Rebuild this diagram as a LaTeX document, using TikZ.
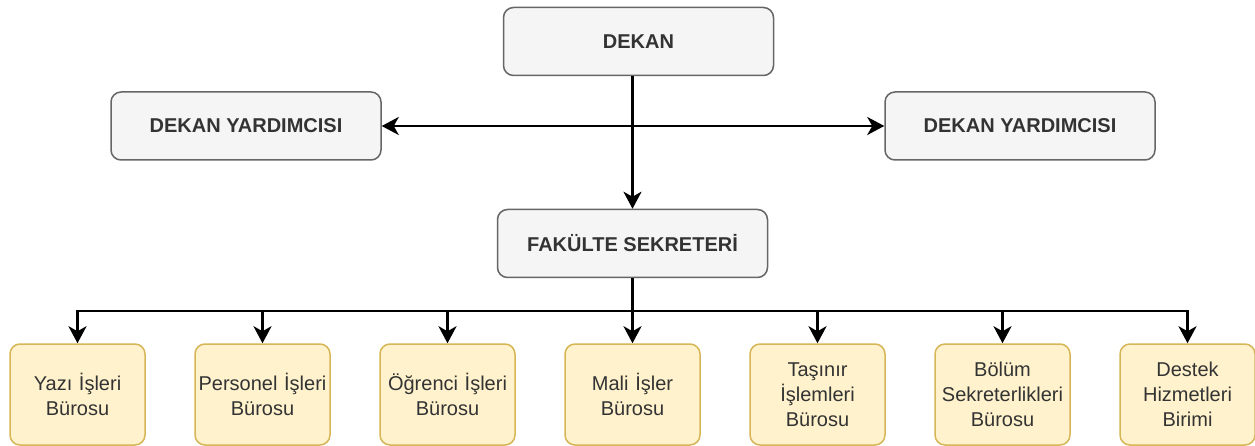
\documentclass[tikz,border=0pt]{standalone}
\usepackage{fontspec}
\setmainfont{Liberation Sans}
\usetikzlibrary{arrows.meta}
\definecolor{grayfill}{HTML}{F5F5F5}
\definecolor{grayline}{HTML}{666666}
\definecolor{yelfill}{HTML}{FFF2CC}
\definecolor{yelline}{HTML}{D6B656}
\definecolor{txt}{HTML}{333333}
\begin{document}
\begin{tikzpicture}[x=1pt,y=-1pt,
 graybox/.style={draw=grayline, fill=grayfill, line width=1.5pt, rounded corners=10pt,
   minimum width=270pt, minimum height=68pt, text=txt,
   font=\fontsize{20}{24}\selectfont\bfseries, inner sep=0pt},
 yelbox/.style={draw=yelline, fill=yelfill, line width=1.5pt, rounded corners=10pt,
   minimum width=135pt, minimum height=101pt, text=txt,
   font=\fontsize{20}{25}\selectfont, align=center, inner sep=0pt, text width=133pt},
 conn/.style={line width=2.8pt, draw=black},
 tip/.style={-{Stealth[length=17pt,width=18pt,inset=5pt]}},
 tips/.style={{Stealth[length=17pt,width=18pt,inset=5pt]}-{Stealth[length=17pt,width=18pt,inset=5pt]}}
]
\useasboundingbox (0,0) rectangle (1255,446);
\fill[white] (0,0) rectangle (1255,446);

\node[graybox] (dekan) at (638.5,41.5) {DEKAN};
\node[graybox] (dyL) at (246,126) {DEKAN YARDIMCISI};
\node[graybox] (dyR) at (1020,126) {DEKAN YARDIMCISI};
\node[graybox] (fs) at (632.5,243.5) {FAKÜLTE SEKRETERİ};

\node[yelbox] (b1) at (77.5,394.5) {Yazı İşleri\\Bürosu};
\node[yelbox] (b2) at (262.5,394.5) {Personel İşleri\\Bürosu};
\node[yelbox] (b3) at (447.5,394.5) {Öğrenci İşleri\\Bürosu};
\node[yelbox] (b4) at (632.5,394.5) {Mali İşler\\Bürosu};
\node[yelbox] (b5) at (817.5,394.5) {Taşınır\\İşlemleri\\Bürosu};
\node[yelbox] (b6) at (1002.5,394.5) {Bölüm\\Sekreterlikleri\\Bürosu};
\node[yelbox] (b7) at (1187.5,394.5) {Destek\\Hizmetleri\\Birimi};

\coordinate (bus) at (0,311);

\draw[conn,tip] (dekan.south -| fs.north) -- (fs.north);
\draw[conn,tips] (dyL.east) -- (dyR.west);

\draw[conn] (fs.south) -- (fs.south |- bus);
\draw[conn,tip] (fs.south |- bus) -- (b1.north |- bus) -- (b1.north);
\draw[conn,tip] (fs.south |- bus) -- (b7.north |- bus) -- (b7.north);
\draw[conn,tip] (b2.north |- bus) -- (b2.north);
\draw[conn,tip] (b3.north |- bus) -- (b3.north);
\draw[conn,tip] (b4.north |- bus) -- (b4.north);
\draw[conn,tip] (b5.north |- bus) -- (b5.north);
\draw[conn,tip] (b6.north |- bus) -- (b6.north);
\end{tikzpicture}
\end{document}
